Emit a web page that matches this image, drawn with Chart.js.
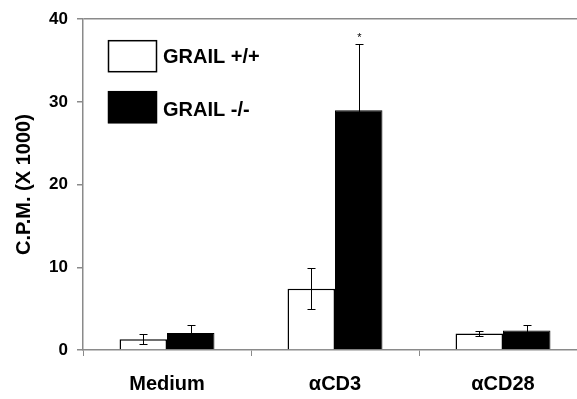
<!DOCTYPE html>
<html>
<head>
<meta charset="utf-8">
<script src="https://cdn.jsdelivr.net/npm/chart.js@4"></script>
<style>
  html, body { margin: 0; padding: 0; background: #fff; overflow: hidden; }
  canvas { display: block; }
</style>
</head>
<body>
<canvas id="myChart" width="590" height="399"></canvas>
<script>
// Datos (C.P.M. x 1000)
var categories = ['Medium', 'αCD3', 'αCD28'];
var seriesNames = ['GRAIL +/+', 'GRAIL -/-'];
var wildType = [1.3, 7.4, 2.0];
var wildTypeErr = [0.6, 2.5, 0.3];
var knockout = [2.05, 29.0, 2.35];
var knockoutErr = [0.95, 8.0, 0.7];
var knockoutMarks = ['', '*', ''];
var yTicks = [0, 10, 20, 30, 40];

var FONT = '"Liberation Sans", Arial, sans-serif';
var AXIS = '#8a8a8a';

// Barras de error + asterisco
var errorBars = {
    id: 'errorBars',
    afterDatasetsDraw: function(chart) {
        var ctx = chart.ctx;
        var y = chart.scales.y;
        ctx.save();
        ctx.strokeStyle = '#000';
        ctx.lineWidth = 1;
        chart.data.datasets.forEach(function(ds, di) {
            var meta = chart.getDatasetMeta(di);
            meta.data.forEach(function(bar, i) {
                var v = ds.data[i], e = ds.errors[i];
                var x = Math.round(bar.x) + 0.5;
                var yt = Math.round(y.getPixelForValue(v + e)) + 0.5;
                var yb = Math.round(y.getPixelForValue(v - e)) + 0.5;
                ctx.beginPath();
                ctx.moveTo(x, yt); ctx.lineTo(x, yb);
                ctx.moveTo(x - 4, yt); ctx.lineTo(x + 4, yt);
                ctx.moveTo(x - 4, yb); ctx.lineTo(x + 4, yb);
                ctx.stroke();
                if (ds.marks && ds.marks[i]) {
                    ctx.fillStyle = '#000';
                    ctx.font = '11px ' + FONT;
                    ctx.textAlign = 'center';
                    ctx.textBaseline = 'bottom';
                    ctx.fillText(ds.marks[i], x, yt - 1);
                }
            });
        });
        ctx.restore();
    }
};

// Leyenda dentro del area del grafico
var boxLegend = {
    id: 'boxLegend',
    afterDraw: function(chart) {
        var ctx = chart.ctx;
        var a = chart.chartArea;
        ctx.save();
        ctx.font = 'bold 20px ' + FONT;
        ctx.textBaseline = 'middle';
        ctx.textAlign = 'left';
        chart.data.datasets.forEach(function(ds, i) {
            var bx = a.left + 25, by = a.top + 21 + i * 51;
            ctx.fillStyle = ds.backgroundColor;
            ctx.fillRect(bx, by, 49, 32);
            ctx.strokeStyle = '#000';
            ctx.lineWidth = 1.5;
            ctx.strokeRect(bx + 0.5, by + 0.5, 48, 31);
            ctx.fillStyle = '#000';
            ctx.fillText(ds.label, bx + 55, by + 17 + i * 2);
        });
        ctx.restore();
    }
};

var ctx = document.getElementById('myChart').getContext('2d');
var myChart = new Chart(ctx, {
    type: 'bar',
    data: {
        labels: categories,
        datasets: [{
            label: seriesNames[0],
            data: wildType,
            errors: wildTypeErr,
            backgroundColor: '#ffffff',
            borderColor: '#000000',
            borderWidth: 1.5
        }, {
            label: seriesNames[1],
            data: knockout,
            errors: knockoutErr,
            marks: knockoutMarks,
            backgroundColor: '#000000',
            borderColor: '#000000',
            borderWidth: 1
        }]
    },
    options: {
        responsive: false,
        animation: false,
        layout: { padding: { top: 16, right: 3, left: 0, bottom: 0 } },
        categoryPercentage: 0.565,
        barPercentage: 1.0,
        plugins: { legend: { display: false }, tooltip: { enabled: false } },
        scales: {
            x: {
                grid: { display: true, offset: true, drawOnChartArea: false, color: AXIS, tickLength: 6 },
                border: { display: true, color: AXIS, width: 1.5 },
                ticks: { color: '#000', font: { family: FONT, size: 20, weight: 'bold' }, padding: 16 },
                afterFit: function(s) { s.height = 49; }
            },
            y: {
                min: 0,
                max: 40,
                afterBuildTicks: function(s) { s.ticks = yTicks.map(function(v) { return { value: v }; }); },
                grid: {
                    drawOnChartArea: true,
                    color: function(c) { return c.tick && c.tick.value === 40 ? AXIS : 'rgba(0,0,0,0)'; },
                    tickColor: AXIS,
                    tickLength: 6,
                    lineWidth: 1.5
                },
                border: { display: true, color: AXIS, width: 1.5 },
                ticks: { color: '#000', font: { family: FONT, size: 17, weight: 'bold' }, padding: 9 },
                title: {
                    display: true,
                    text: 'C.P.M. (X 1000)',
                    color: '#000',
                    font: { family: FONT, size: 20, weight: 'bold' },
                    padding: { top: 12, bottom: 0 }
                },
                afterFit: function(s) { s.width = 83; }
            }
        }
    },
    plugins: [errorBars, boxLegend]
});
</script>
</body>
</html>
